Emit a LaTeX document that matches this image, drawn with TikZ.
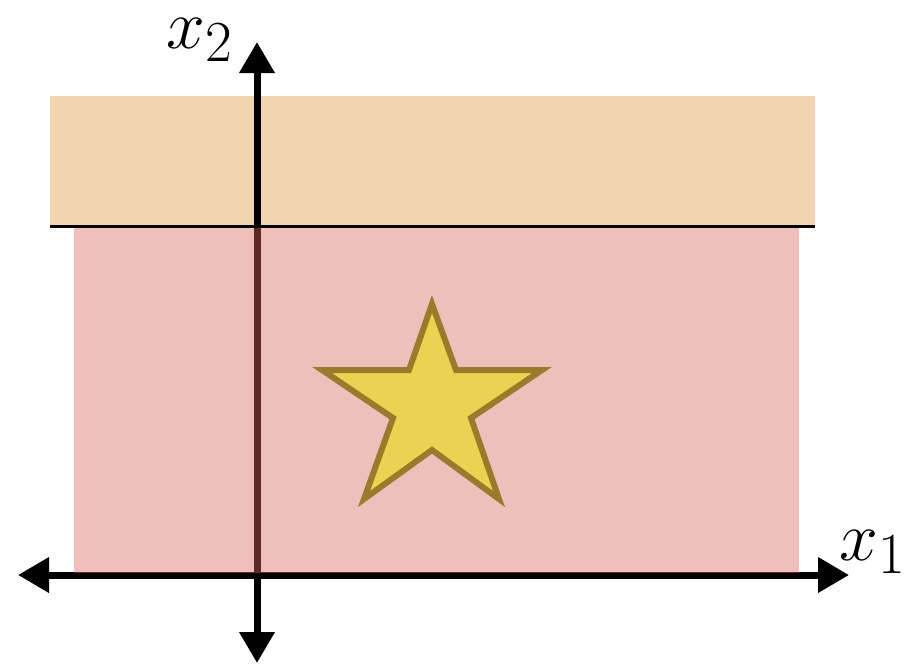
\documentclass[tikz,border=0pt]{standalone}
\usetikzlibrary{arrows.meta}
\definecolor{regA}{HTML}{F3D4B1}
\definecolor{regB}{RGB}{222,101,92}
\definecolor{starfill}{HTML}{EED150}
\definecolor{starline}{HTML}{9C7A2C}
\tikzset{
  axis/.style={line width=7pt, black, -{Triangle[length=31pt,width=34pt]}},
  lbl/.style={inner sep=0pt},
  starshape/.style={fill=starfill, draw=starline, line width=6pt, line join=miter},
}
\newcommand{\biglbl}[1]{\scalebox{2.8}{\Huge $#1$}}
\begin{document}
\begin{tikzpicture}[x=1pt,y=-1pt]
\useasboundingbox (0,0) rectangle (907,664);
% upper region
\fill[regA] (50,96) rectangle (815,226);
% axes
\coordinate (o) at (257,575);
\coordinate (xl) at (18,575);
\coordinate (xr) at (849,575);
\coordinate (yt) at (257,42);
\coordinate (yb) at (257,663);
\draw[axis] (o) -- (xl);
\draw[axis] (o) -- (xr);
\draw[axis] (o) -- (yt);
\draw[axis] (o) -- (yb);
% lower region (translucent over axis)
\fill[regB, fill opacity=0.415] (74,226) rectangle (799,573);
\draw[line width=3pt, black] (50,226) -- (815,226);
% star
\draw[starshape] (432,304) -- (456,370) -- (542,370) -- (471,418) -- (499,499)
  -- (432,450) -- (364,499) -- (393,418) -- (322,370) -- (409,370) -- cycle;
% labels
\node[lbl] (l2) at (200,40) {\biglbl{x_2}};
\node[lbl] (l1) at (873,552) {\biglbl{x_1}};
\end{tikzpicture}
\end{document}
